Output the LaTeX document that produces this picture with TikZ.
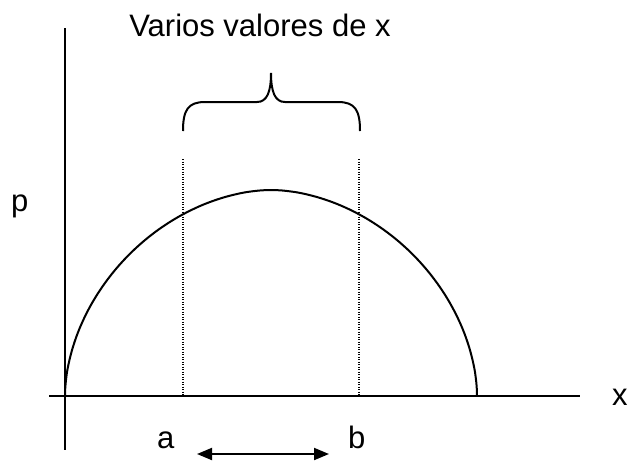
\documentclass[tikz,border=0pt]{standalone}
\usepackage{fontspec}
\setmainfont{Liberation Sans}
\usetikzlibrary{arrows.meta}
\begin{document}
\begin{tikzpicture}[x=1pt,y=-1pt,
  lbl/.style={inner sep=0pt,font=\fontsize{31}{37}\selectfont},
  axisline/.style={line width=2pt},
  curveline/.style={line width=2pt},
  guide/.style={line width=1.2pt,dash pattern=on 1.2pt off 1.3pt},
  bracel/.style={line width=2pt},
  dbl/.style={line width=2pt,{Triangle[length=15pt,width=12pt]}-{Triangle[length=15pt,width=12pt]}}]
\useasboundingbox (0,0) rectangle (628,461);
% axes
\coordinate (ytop) at (65,28);
\coordinate (ybot) at (65,450);
\coordinate (xl) at (49,396);
\coordinate (xr) at (580,396);
\draw[axisline] (ytop) -- (ybot);
\draw[axisline] (xl) -- (xr);
% curve (superellipse)
\draw[curveline] plot[domain=0.001:179.999,samples=120,smooth]
  ({271+206*sign(cos(\x))*pow(abs(cos(\x)),2/1.85)},{396-206*pow(sin(\x),2/1.85)});
% dotted guides
\coordinate (at) at (183,159);
\coordinate (ab) at (183,396);
\coordinate (bt) at (359,159);
\coordinate (bb) at (359,396);
\draw[guide] (at) -- (ab);
\draw[guide] (bt) -- (bb);
% brace
\coordinate (bl) at (183,131);
\coordinate (br) at (360,131);
\coordinate (tip) at (271,73);
\draw[bracel] (bl) .. controls (183,110) and (188,102) .. (205,102) -- (257,102)
  .. controls (267,102) and (271,92) .. (tip)
  .. controls (271,92) and (275,102) .. (285,102) -- (338,102)
  .. controls (355,102) and (360,110) .. (br);
% labels
\node[lbl,anchor=base] (title) at (260,36) {Varios valores de x};
\node[lbl,anchor=base west] (p) at (11,211) {p};
\node[lbl,anchor=base west] (xlab) at (612,405) {x};
\node[lbl,anchor=base west] (a) at (157,448) {a};
\node[lbl,anchor=base west] (b) at (348,448) {b};
% double arrow
\coordinate (al) at (197,454);
\coordinate (ar) at (329,454);
\draw[dbl] (al) -- (ar);
\end{tikzpicture}
\end{document}
